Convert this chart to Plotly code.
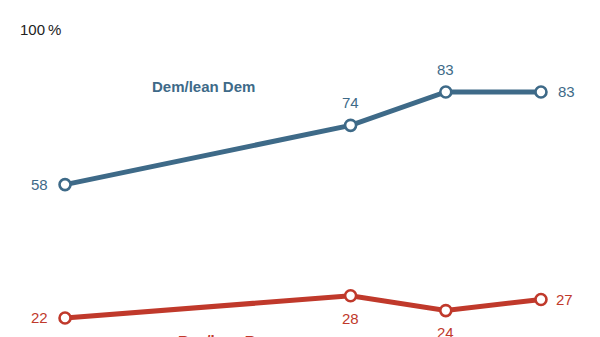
import plotly.graph_objects as go

years = [2014, 2017, 2018, 2019]
dem = [58, 74, 83, 83]
rep = [22, 28, 24, 27]
dem_label = "Dem/lean Dem"
rep_label = "Rep/lean Rep"
y_tick_label = "100\u2009%"

DEM_C = "#3e6a88"
REP_C = "#c0392b"
FONT = "Liberation Sans, Arial, sans-serif"

fig = go.Figure()
for vals, col in [(dem, DEM_C), (rep, REP_C)]:
    fig.add_trace(go.Scatter(
        x=years, y=vals, mode="lines+markers",
        line=dict(color=col, width=5),
        marker=dict(size=11, color="white", line=dict(color=col, width=2.6)),
        hoverinfo="skip", showlegend=False, cliponaxis=False,
    ))

# label offsets (style): (xshift, yshift) per point
dem_off = [(-26, 0), (0, 23), (0, 22), (26, 0)]
rep_off = [(-26, 0), (0, -23), (0, -22), (24, 0)]
for vals, offs, col in [(dem, dem_off, DEM_C), (rep, rep_off, REP_C)]:
    for x, v, (dx, dy) in zip(years, vals, offs):
        fig.add_annotation(x=x, y=v, text=str(v), showarrow=False,
                           xshift=dx, yshift=dy,
                           font=dict(family=FONT, size=15, color=col))

fig.add_annotation(xref="paper", yref="y", x=0.03, y=100, xanchor="left",
                   text=y_tick_label, showarrow=False,
                   font=dict(family=FONT, size=15, color="#222222"))
fig.add_annotation(x=2015.45, y=84.5, text="<b>" + dem_label + "</b>",
                   showarrow=False, font=dict(family=FONT, size=15, color=DEM_C))
fig.add_annotation(x=2015.69, y=17.2, yshift=-5, text="<b>" + rep_label + "</b>",
                   showarrow=False, font=dict(family=FONT, size=15, color=REP_C))

fig.update_layout(
    width=600, height=337,
    margin=dict(l=0, r=0, t=0, b=0),
    paper_bgcolor="white", plot_bgcolor="white",
    xaxis=dict(range=[2013.317, 2019.62], visible=False, fixedrange=True),
    yaxis=dict(range=[16.87, 107.83], visible=False, fixedrange=True),
)
fig.write_html("out.html")
